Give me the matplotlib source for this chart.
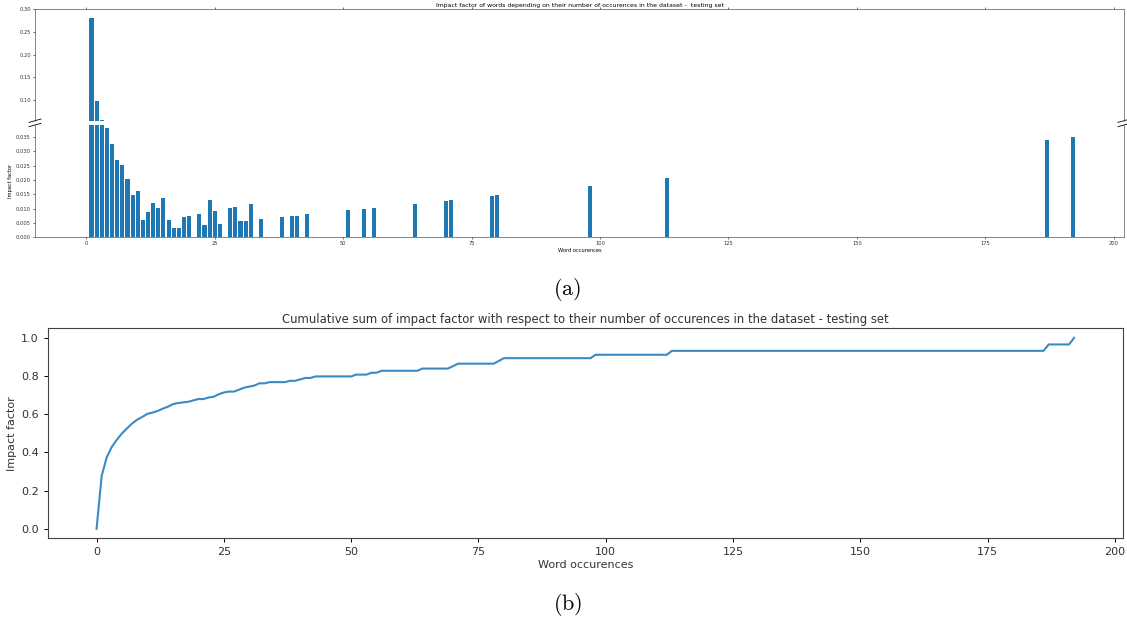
import numpy as np
import matplotlib
matplotlib.use("Agg")
import matplotlib.pyplot as plt

# ==========================================
# DATA
# ==========================================
occurences = [1, 2, 3, 4, 5, 6, 7, 8, 9, 10, 11, 12, 13, 14, 15, 16, 17, 18, 19, 20,
              22, 23, 24, 25, 26, 28, 29, 30, 31, 32, 34, 38, 40, 41, 43,
              51, 54, 56, 64, 70, 71, 79, 80, 98, 113, 187, 192]
impact = [0.280, 0.098, 0.055, 0.0383, 0.0327, 0.0271, 0.0253, 0.0203, 0.0147, 0.0163,
          0.0061, 0.0089, 0.0118, 0.0102, 0.0137, 0.0060, 0.0032, 0.0034, 0.0070, 0.0074,
          0.0081, 0.0043, 0.0131, 0.0092, 0.0048, 0.0102, 0.0105, 0.0056, 0.0057, 0.0116,
          0.0063, 0.0070, 0.0074, 0.0076, 0.0081,
          0.0096, 0.0099, 0.0103, 0.0117, 0.0128, 0.0131, 0.0145, 0.0146, 0.0180, 0.0207,
          0.0338, 0.0349]

title_a = "Impact factor of words depending on their number of occurences in the dataset -  testing set"
title_b = "Cumulative sum of impact factor with respect to their number of occurences in the dataset - testing set"

# cumulative curve: 0..max occurences, normalised to 1
n_max = max(occurences)
per_count = np.zeros(n_max + 1)
per_count[occurences] = impact
cum = np.cumsum(per_count) / per_count.sum()
xs = np.arange(n_max + 1)

plt.rcParams['mathtext.fontset'] = 'cm'
W, H = 1127, 621
fig = plt.figure(figsize=(W / 100, H / 100), dpi=100)

# --- (a) broken axis bar chart ---
ax_top = fig.add_axes([35 / W, 1 - 120.7 / H, 1089 / W, 111.4 / H])
ax_bot = fig.add_axes([35 / W, 1 - 237.3 / H, 1089 / W, 112.3 / H], sharex=ax_top)

small = 3.7
for ax in (ax_top, ax_bot):
    ax.bar(occurences, impact, width=0.8, color='#1f77b4')
    ax.tick_params(labelsize=small, length=1.5, width=0.4, pad=1.5, labelcolor='#333333')
    for s in ax.spines.values():
        s.set_linewidth(0.5)
        s.set_color('#555555')

ax_top.set_ylim(0.054, 0.30)
ax_bot.set_ylim(0, 0.0392)
ax_top.set_xlim(-10, 202)
ax_top.set_yticks([0.10, 0.15, 0.20, 0.25, 0.30])
ax_bot.set_yticks(np.arange(0, 0.0351, 0.005))
ax_top.yaxis.set_major_formatter(matplotlib.ticker.FormatStrFormatter('%.2f'))
ax_bot.yaxis.set_major_formatter(matplotlib.ticker.FormatStrFormatter('%.3f'))
ax_bot.set_xticks([0, 25, 50, 75, 100, 125, 150, 175, 200])

ax_top.spines['bottom'].set_visible(False)
ax_bot.spines['top'].set_visible(False)
ax_top.xaxis.tick_top()
ax_top.tick_params(labeltop=False)
ax_bot.xaxis.tick_bottom()

# break marks
dx, dy = 0.0055, 0.015
kw = dict(transform=ax_top.transAxes, color='k', clip_on=False, lw=0.6)
ax_top.plot((-dx, dx), (-dy, dy), **kw)
ax_top.plot((1 - dx, 1 + dx), (-dy, dy), **kw)
kw.update(transform=ax_bot.transAxes)
ax_bot.plot((-dx, dx), (1 - dy, 1 + dy), **kw)
ax_bot.plot((1 - dx, 1 + dx), (1 - dy, 1 + dy), **kw)

ax_top.set_title(title_a, fontsize=4.45, pad=1.5)
ax_bot.set_xlabel("Word occurences", fontsize=small, labelpad=1)
ax_bot.set_ylabel("Impact factor", fontsize=small, labelpad=2)

fig.text(567 / W, 1 - 289 / H, r'$\mathrm{(a)}$', fontsize=16, ha='center', va='center')

# --- (b) cumulative line ---
ax_c = fig.add_axes([47.7 / W, 1 - 538.3 / H, 1075.3 / W, 210 / H])
ax_c.plot(xs, cum, color='#3a8ac4', lw=1.5)
ax_c.set_xticks([0, 25, 50, 75, 100, 125, 150, 175, 200])
ax_c.set_yticks([0.0, 0.2, 0.4, 0.6, 0.8, 1.0])
ax_c.tick_params(labelsize=8, length=3, width=0.7, labelcolor='#333333')
for s in ax_c.spines.values():
    s.set_color('#444444')
ax_c.set_title(title_b, fontsize=8.35, pad=4, color='#333333')
ax_c.set_xlabel("Word occurences", fontsize=8, labelpad=2, color='#333333')
ax_c.set_ylabel("Impact factor", fontsize=8, labelpad=3, color='#333333')

fig.text(568 / W, 1 - 605 / H, r'$\mathrm{(b)}$', fontsize=16, ha='center', va='center')

fig.savefig("out.png", dpi=100)
